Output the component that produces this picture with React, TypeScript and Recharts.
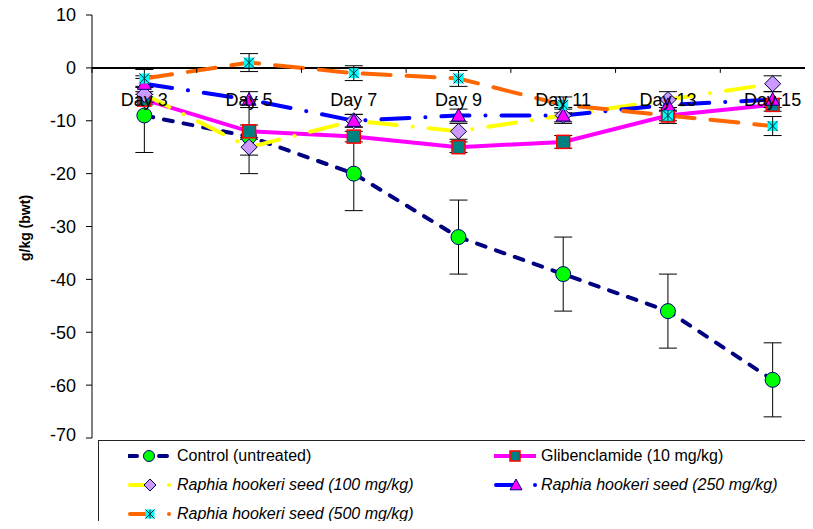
import { LineChart, Line, XAxis, YAxis, ReferenceLine, ErrorBar, Label } from "recharts";

const days = ["Day 3", "Day 5", "Day 7", "Day 9", "Day 11", "Day 13", "Day 15"];
const control = [-9, -13, -20, -32, -39, -46, -59];
const controlErr = [7, 7, 7, 7, 7, 7, 7];
const glib = [-6, -12, -13, -15, -14, -9, -7];
const glibErr = [1, 1.2, 1, 1, 1.2, 1, 1.2];
const r100 = [-5, -15, -10, -12, -9, -6, -3];
const r100Err = [1.5, 1.5, 1.2, 1.5, 1.5, 1.5, 1.5];
const r250 = [-3, -6, -10, -9, -9, -7, -6];
const r250Err = [1.5, 1.5, 1.2, 1.2, 1.2, 1.2, 1.5];
const r500 = [-2, 1, -1, -2, -7, -9, -11];
const r500Err = [1.7, 1.7, 1.4, 1.5, 1.5, 1.5, 1.8];
const yTicks = [10, 0, -10, -20, -30, -40, -50, -60, -70];

const data = days.map((day, i) => ({
  day,
  control: control[i], controlErr: controlErr[i],
  glib: glib[i], glibErr: glibErr[i],
  r100: r100[i], r100Err: r100Err[i],
  r250: r250[i], r250Err: r250Err[i],
  r500: r500[i], r500Err: r500Err[i],
}));

const Y_MIN = -70;
const Y_MAX = 10;
const CHART_W = 840;
const CHART_H = 445;
const X_H = 7;
const M = { top: 15, right: 15, bottom: 0, left: 0 };
const Y_W = 92;
const PLOT_H = CHART_H - M.top - M.bottom - X_H;
const PLOT_W = CHART_W - M.left - M.right - Y_W;
const BAND = PLOT_W / days.length;
const ZERO_Y = M.top + (PLOT_H * Y_MAX) / (Y_MAX - Y_MIN);

// markers
const Circle = ({ cx, cy, r = 7.5 }: any) => (
  <circle cx={cx} cy={cy} r={r} fill="#00FF00" stroke="#000080" strokeWidth={1} />
);
const Square = ({ cx, cy, s = 13 }: any) => (
  <rect x={cx - s / 2} y={cy - s / 2} width={s} height={s} fill="#008080" stroke="#FF0000" strokeWidth={1.5} />
);
const Diamond = ({ cx, cy, s = 8 }: any) => (
  <path d={`M${cx},${cy - s}L${cx + s},${cy}L${cx},${cy + s}L${cx - s},${cy}Z`} fill="#CC99FF" stroke="#000040" strokeWidth={1} />
);
const Triangle = ({ cx, cy, s = 7 }: any) => (
  <path d={`M${cx},${cy - s}L${cx + s},${cy + s * 0.8}L${cx - s},${cy + s * 0.8}Z`} fill="#FF00FF" stroke="#000080" strokeWidth={1} />
);
const Star = ({ cx, cy, s = 5 }: any) => (
  <g>
    <rect x={cx - s} y={cy - s} width={s * 2} height={s * 2} fill="#00FFFF" />
    <path d={`M${cx - s},${cy - s}L${cx + s},${cy + s}M${cx + s},${cy - s}L${cx - s},${cy + s}M${cx},${cy - s}L${cx},${cy + s}`} stroke="#003333" strokeWidth={1} />
  </g>
);

const dot = (Shape: any) => (p: any) => <Shape key={p.index} cx={p.cx} cy={p.cy} />;

const DayTick = ({ x, payload, index }: any) => (
  <g>
    <text x={x} y={ZERO_Y + 38} textAnchor="middle" fontSize={18} fill="#000">{payload.value}</text>
    <line x1={x + BAND / 2} x2={x + BAND / 2} y1={ZERO_Y} y2={ZERO_Y + 5} stroke="#000" strokeWidth={1} />
    {index === 0 && <line x1={x - BAND / 2} x2={x - BAND / 2} y1={ZERO_Y} y2={ZERO_Y + 5} stroke="#000" strokeWidth={1} />}
  </g>
);

const YLabel = () => (
  <text x={30} y={228} transform="rotate(-90, 30, 228)" textAnchor="middle" fontSize={14} fontWeight="bold" fill="#000">
    g/kg (bwt)
  </text>
);

const legendItems = [
  { name: "Control (untreated)", italic: false, col: 0, row: 0, color: "#000080", marker: Circle, kind: "dash" },
  { name: "Glibenclamide (10 mg/kg)", italic: false, col: 1, row: 0, color: "#FF00FF", marker: Square, kind: "solid" },
  { name: "Raphia hookeri seed (100 mg/kg)", italic: true, col: 0, row: 1, color: "#FFFF00", marker: Diamond, kind: "dot" },
  { name: "Raphia hookeri seed (250 mg/kg)", italic: true, col: 1, row: 1, color: "#0000FF", marker: Triangle, kind: "dot" },
  { name: "Raphia hookeri seed (500 mg/kg)", italic: true, col: 0, row: 2, color: "#FF6600", marker: Star, kind: "dot" },
];

const LegendIcon = ({ item }: any) => {
  const M2 = item.marker;
  return (
    <svg width={44} height={18} style={{ position: "absolute", left: 0, top: -9 }}>
      {item.kind === "dash" && (
        <>
          <line x1={1} x2={9} y1={9} y2={9} stroke={item.color} strokeWidth={4} strokeLinecap="round" />
          <line x1={31} x2={39} y1={9} y2={9} stroke={item.color} strokeWidth={4} strokeLinecap="round" />
          <M2 cx={21} cy={9} r={5.5} />
        </>
      )}
      {item.kind === "solid" && (
        <>
          <line x1={0} x2={42} y1={9} y2={9} stroke={item.color} strokeWidth={4} />
          <M2 cx={21} cy={9} s={10} />
        </>
      )}
      {item.kind === "dot" && (
        <>
          <line x1={2} x2={20} y1={9} y2={9} stroke={item.color} strokeWidth={4} strokeLinecap="round" />
          <circle cx={41} cy={9} r={2} fill={item.color} />
          <M2 cx={22} cy={9} s={item.marker === Star ? 4.5 : 6} />
        </>
      )}
    </svg>
  );
};

export default function App() {
  return (
    <div style={{ position: "relative", margin: -8, width: 813, height: 529, overflow: "hidden", background: "#fff", fontFamily: "'Liberation Sans', Arial, sans-serif" }}>
      <LineChart width={CHART_W} height={CHART_H} data={data} margin={M}>
        <XAxis dataKey="day" height={X_H} axisLine={false} tickLine={false} tick={<DayTick />} interval={0} padding={{ left: BAND / 2, right: BAND / 2 }} />
        <YAxis
          domain={[Y_MIN, Y_MAX]}
          ticks={yTicks}
          width={Y_W}
          allowDataOverflow
          axisLine={{ stroke: "#000", strokeWidth: 1 }}
          tickLine={{ stroke: "#000" }}
          tickSize={6}
          tickMargin={10}
          tick={{ fontSize: 18, fill: "#000" }}
        >
          <Label content={<YLabel />} />
        </YAxis>
        <ReferenceLine y={0} stroke="#000" strokeWidth={2} />
        <Line dataKey="control" stroke="#000080" strokeWidth={4} strokeDasharray="9 11" strokeLinecap="round" dot={dot(Circle)} activeDot={false} isAnimationActive={false}>
          <ErrorBar dataKey="controlErr" width={9} stroke="#000" strokeWidth={1} direction="y" />
        </Line>
        <Line dataKey="glib" stroke="#FF00FF" strokeWidth={4} dot={dot(Square)} activeDot={false} isAnimationActive={false}>
          <ErrorBar dataKey="glibErr" width={9} stroke="#000" strokeWidth={1} direction="y" />
        </Line>
        <Line dataKey="r100" stroke="#FFFF00" strokeWidth={4} strokeDasharray="28 16 0.1 16" strokeLinecap="round" dot={dot(Diamond)} activeDot={false} isAnimationActive={false}>
          <ErrorBar dataKey="r100Err" width={9} stroke="#000" strokeWidth={1} direction="y" />
        </Line>
        <Line dataKey="r250" stroke="#0000FF" strokeWidth={4} strokeDasharray="28 16 0.1 16" strokeLinecap="round" dot={dot(Triangle)} activeDot={false} isAnimationActive={false}>
          <ErrorBar dataKey="r250Err" width={9} stroke="#000" strokeWidth={1} direction="y" />
        </Line>
        <Line dataKey="r500" stroke="#FF6600" strokeWidth={4} strokeDasharray="28 16" strokeLinecap="round" dot={dot(Star)} activeDot={false} isAnimationActive={false}>
          <ErrorBar dataKey="r500Err" width={9} stroke="#000" strokeWidth={1} direction="y" />
        </Line>
      </LineChart>

      <div style={{ position: "absolute", left: 98, top: 440, width: 760, height: 86, border: "1px solid #222", boxSizing: "border-box" }}>
        {legendItems.map((item) => (
          <div key={item.name} style={{ position: "absolute", left: item.col === 0 ? 29 : 395, top: 15 + item.row * 29, height: 0 }}>
            <LegendIcon item={item} />
            <span style={{ position: "absolute", left: item.col === 0 ? 49 : 47, top: -10, fontSize: 16, lineHeight: "20px", whiteSpace: "nowrap", fontStyle: item.italic ? "italic" : "normal", color: "#000" }}>
              {item.name}
            </span>
          </div>
        ))}
      </div>
    </div>
  );
}
